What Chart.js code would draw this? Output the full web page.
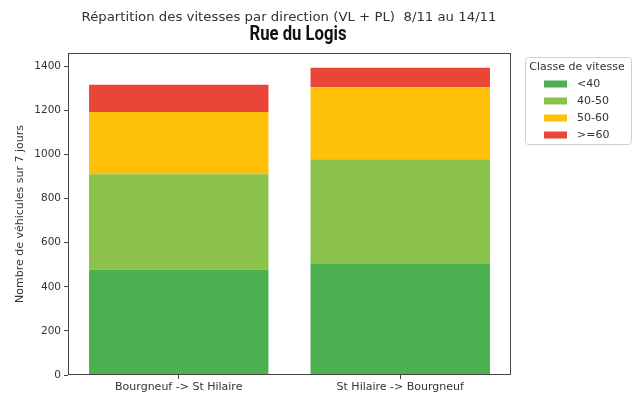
<!DOCTYPE html>
<html><head><meta charset="utf-8">
<script src="https://cdn.jsdelivr.net/npm/chart.js@4/dist/chart.umd.min.js"></script>
<style>html,body{margin:0;padding:0;background:#fff}#wrap{width:639px;height:407px;position:relative}</style>
</head><body><div id="wrap"><canvas id="c" width="639" height="407"></canvas></div>
<script>
const categories = ['Bourgneuf -> St Hilaire', 'St Hilaire -> Bourgneuf'];
const speedClasses = ['<40', '40-50', '50-60', '>=60'];
const below40 = [478, 507];
const from40to50 = [432, 471];
const from50to60 = [282, 327];
const above60 = [124, 88];
const yTicks = [0, 200, 400, 600, 800, 1000, 1200, 1400];
const titleText = 'Répartition des vitesses par direction (VL + PL)  8/11 au 14/11';
const subtitleText = 'Rue du Logis';
const yAxisTitle = 'Nombre de véhicules sur 7 jours';
const legendTitle = 'Classe de vitesse';
const colors = ['#4CAF50', '#8BC34A', '#FFC107', '#EA4637'];

const seriesValues = [below40, from40to50, from50to60, above60];
const FONT = '"DejaVu Sans", sans-serif';

function fitText(ctx, text, cx, baseline, targetWidth) {
  const w = ctx.measureText(text).width;
  ctx.save();
  ctx.translate(cx, baseline);
  ctx.scale(targetWidth / w, 1);
  ctx.fillText(text, 0, 0);
  ctx.restore();
}

const decor = {
  id: 'decor',
  afterDraw(chart) {
    const ctx = chart.ctx, a = chart.chartArea;
    ctx.save();
    // frame
    ctx.strokeStyle = '#444';
    ctx.lineWidth = 1;
    ctx.strokeRect(Math.round(a.left) + 0.5, Math.round(a.top) + 0.5,
      Math.round(a.right - a.left) - 1, Math.round(a.bottom - a.top) - 1);
    // titles
    ctx.fillStyle = '#333';
    ctx.textAlign = 'center';
    ctx.textBaseline = 'alphabetic';
    ctx.font = '13px ' + FONT;
    fitText(ctx, titleText, 289, 21, 415);
    ctx.fillStyle = '#111';
    ctx.font = 'bold 20px Roboto, sans-serif';
    fitText(ctx, subtitleText, 298, 40, 97);
    // legend
    ctx.strokeStyle = '#d0d0d0';
    ctx.lineWidth = 1;
    ctx.beginPath();
    if (ctx.roundRect) ctx.roundRect(525.5, 57.5, 106, 87, 3); else ctx.rect(525.5, 57.5, 106, 87);
    ctx.fillStyle = 'rgba(255,255,255,0.9)';
    ctx.fill();
    ctx.stroke();
    ctx.fillStyle = '#333';
    ctx.font = '11px ' + FONT;
    ctx.textBaseline = 'middle';
    ctx.textAlign = 'center';
    ctx.fillText(legendTitle, 577, 67);
    ctx.textAlign = 'left';
    chart.data.datasets.forEach((ds, i) => {
      const cy = 84 + i * 17;
      ctx.fillStyle = ds.backgroundColor;
      ctx.fillRect(544, cy - 3.5, 23, 7);
      ctx.fillStyle = '#333';
      ctx.fillText(ds.label, 577, cy);
    });
    ctx.restore();
  }
};

new Chart(document.getElementById('c'), {
  type: 'bar',
  data: {
    labels: categories,
    datasets: speedClasses.map((lab, i) => ({
      label: lab,
      data: seriesValues[i],
      backgroundColor: colors[i],
      borderWidth: 0,
      barPercentage: 0.81,
      categoryPercentage: 1.0
    }))
  },
  options: {
    responsive: false,
    animation: false,
    layout: { padding: { top: 53, right: 128, left: 0, bottom: 0 } },
    plugins: { legend: { display: false }, tooltip: { enabled: false }, title: { display: false } },
    scales: {
      x: {
        stacked: true,
        offset: true,
        grid: { display: true, drawOnChartArea: false, offset: false, tickLength: 4, color: '#444' },
        border: { display: false },
        ticks: { font: { family: 'DejaVu Sans', size: 11 }, color: '#333', padding: 2, maxRotation: 0 },
        afterFit: s => { s.height = 32; }
      },
      y: {
        stacked: true,
        min: 0,
        max: 1460,
        grid: { display: true, drawOnChartArea: false, tickLength: 4, color: '#444' },
        border: { display: false },
        ticks: { font: { family: 'DejaVu Sans', size: 10.5 }, color: '#333', padding: 3, callback: v => String(v) },
        afterBuildTicks: s => { s.ticks = yTicks.map(v => ({ value: v })); },
        title: { display: true, text: yAxisTitle, font: { family: 'DejaVu Sans', size: 11 }, color: '#333', padding: { top: 14, bottom: 0 } },
        afterFit: s => { s.width = 68; }
      }
    }
  },
  plugins: [decor]
});
</script>
</body></html>
